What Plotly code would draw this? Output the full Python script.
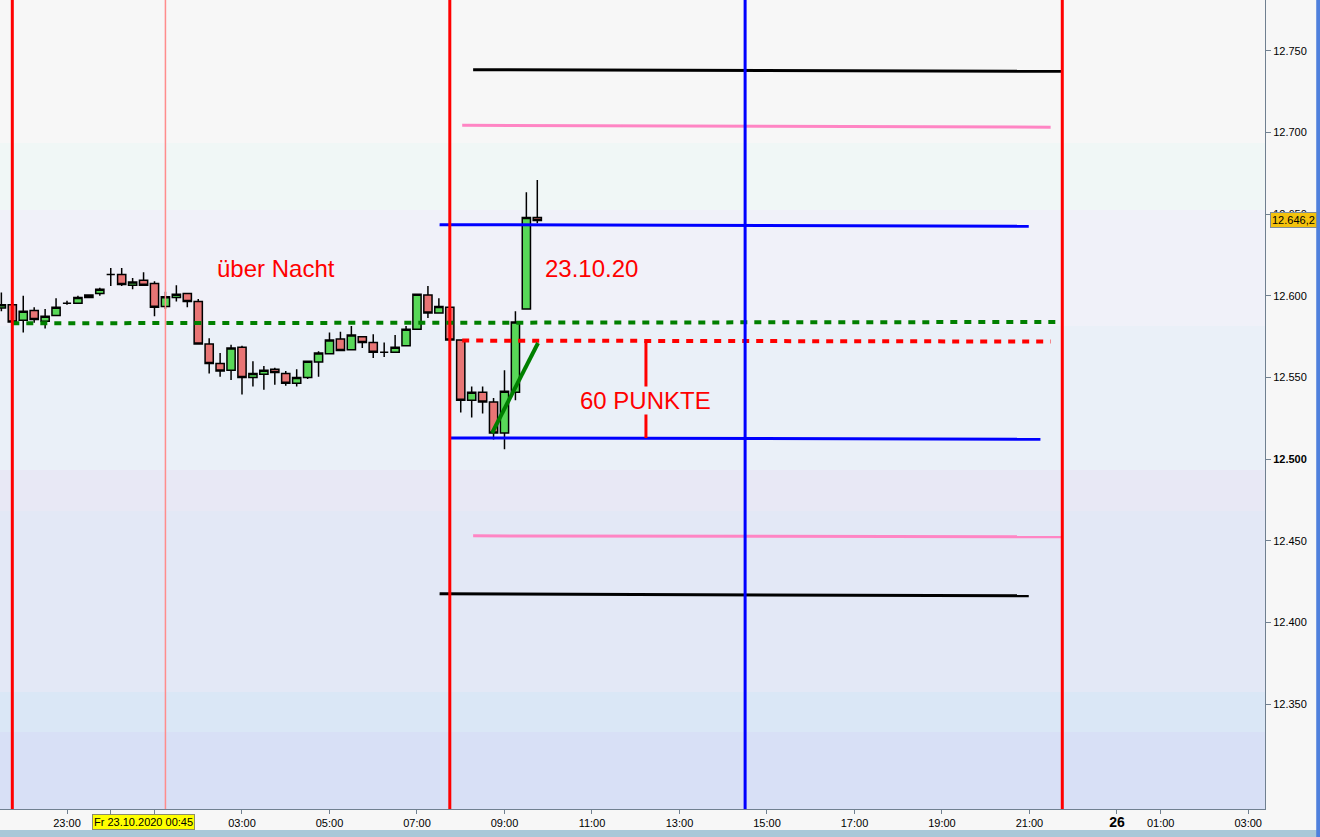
import pandas as pd
import plotly.graph_objects as go

# DAX 15-minute candles, Thu 22.10.2020 21:30 -> Fri 23.10.2020 09:45
START = "2020-10-22 21:30"
OPEN = [12592.5, 12594.5, 12585.0, 12591.0, 12584.5, 12588.0, 12595.5, 12595.5, 12599.0, 12601.5,
        12613.0, 12613.0, 12606.5, 12609.5, 12607.5, 12593.5, 12599.0, 12601.5, 12596.5, 12570.5,
        12558.5, 12554.5, 12568.5, 12550.0, 12552.0, 12555.0, 12552.5, 12546.5, 12550.0, 12559.5,
        12564.5, 12573.5, 12567.0, 12575.0, 12571.5, 12565.5, 12565.5, 12569.5, 12579.5, 12600.5,
        12589.5, 12593.0, 12573.0, 12536.0, 12541.0, 12535.0, 12516.0, 12541.0, 12592.0, 12648.0]
HIGH = [12602.0, 12595.5, 12600.0, 12593.0, 12592.0, 12598.5, 12597.0, 12600.0, 12600.5, 12605.0,
        12617.0, 12617.0, 12611.0, 12614.5, 12609.0, 12602.5, 12606.5, 12601.5, 12598.0, 12574.0,
        12565.0, 12570.0, 12569.5, 12560.0, 12557.0, 12556.0, 12554.0, 12555.0, 12560.0, 12566.0,
        12577.5, 12578.0, 12581.5, 12575.0, 12576.5, 12571.5, 12576.0, 12581.5, 12601.0, 12606.0,
        12598.5, 12593.0, 12573.0, 12544.5, 12544.5, 12537.5, 12554.5, 12590.5, 12663.5, 12671.0]
LOW = [12590.5, 12583.0, 12577.5, 12583.5, 12580.0, 12587.5, 12594.5, 12595.0, 12598.5, 12600.0,
       12606.0, 12606.0, 12604.0, 12606.0, 12587.5, 12592.0, 12596.5, 12593.0, 12570.5, 12552.5,
       12550.5, 12548.5, 12539.5, 12544.5, 12542.5, 12545.5, 12545.0, 12544.5, 12549.0, 12550.5,
       12564.0, 12566.5, 12567.0, 12568.0, 12562.0, 12562.5, 12565.0, 12569.5, 12579.5, 12586.5,
       12589.5, 12572.5, 12528.5, 12525.5, 12528.0, 12512.0, 12506.0, 12536.0, 12592.0, 12644.5]
CLOSE = [12594.5, 12584.0, 12590.5, 12585.5, 12587.5, 12593.0, 12595.5, 12599.0, 12600.5, 12604.0,
         12613.0, 12607.0, 12608.5, 12606.5, 12593.0, 12599.5, 12601.0, 12596.5, 12570.5, 12558.5,
         12554.0, 12568.0, 12550.0, 12552.5, 12554.5, 12553.0, 12546.5, 12550.0, 12560.0, 12565.0,
         12573.0, 12566.5, 12576.0, 12571.5, 12565.5, 12565.5, 12568.5, 12579.5, 12601.0, 12589.5,
         12593.5, 12573.0, 12536.0, 12541.0, 12535.0, 12516.0, 12541.5, 12584.0, 12648.0, 12646.2]
LAST_PRICE = 12646.2

# drawn trend lines / levels
LINE_NAMES = ["black_top", "pink_top", "blue_top", "green_dotted", "red_dotted",
              "blue_bottom", "pink_bottom", "black_bottom", "green_trend", "range_60"]
LINE_START = ["2020-10-23 08:17", "2020-10-23 08:02", "2020-10-23 07:31", "2020-10-22 21:45",
              "2020-10-23 08:02", "2020-10-23 07:46", "2020-10-23 08:17", "2020-10-23 07:31",
              "2020-10-23 08:43", "2020-10-23 12:14"]
LINE_END = ["2020-10-23 21:45", "2020-10-23 21:29", "2020-10-23 20:59", "2020-10-23 21:38",
            "2020-10-23 21:29", "2020-10-23 21:15", "2020-10-23 21:45", "2020-10-23 20:59",
            "2020-10-23 09:46", "2020-10-23 12:14"]
LINE_START_PRICE = [12738.5, 12704.5, 12643.6, 12583.2, 12572.6, 12513.0, 12453.0, 12417.5, 12516.0, 12572.4]
LINE_END_PRICE = [12737.5, 12703.3, 12642.6, 12584.0, 12572.0, 12512.2, 12452.4, 12416.3, 12571.1, 12512.9]

VLINE_NAMES = ["prev_close", "night", "open", "us_open", "close"]
VLINE_TIMES = ["2020-10-22 21:45", "2020-10-23 01:15", "2020-10-23 07:45",
               "2020-10-23 14:30", "2020-10-23 21:45"]

# background price zones (top to bottom)
BAND_EDGES = [12781.2, 12693.6, 12652.6, 12581.5, 12493.3, 12468.2, 12357.4, 12332.8, 12285.7]
BAND_COLORS = ["#f7f7f7", "#f0f7f6", "#f0f1f9", "#eaf0f8", "#e8e8f5", "#e3e8f6", "#dae7f6", "#d8e0f6"]

X_TICKS = ["2020-10-22 23:00", "2020-10-23 00:00", "2020-10-23 01:00", "2020-10-23 03:00",
           "2020-10-23 05:00", "2020-10-23 07:00", "2020-10-23 09:00", "2020-10-23 11:00",
           "2020-10-23 13:00", "2020-10-23 15:00", "2020-10-23 17:00", "2020-10-23 19:00",
           "2020-10-23 21:00", "2020-10-26 00:00", "2020-10-26 01:00", "2020-10-26 03:00"]
# 00:00 and 01:00 on the 23rd sit under the crosshair tag
X_TICK_LABELS = ["23:00", "", "", "03:00", "05:00", "07:00", "09:00", "11:00",
                 "13:00", "15:00", "17:00", "19:00", "21:00",
                 "<b><span style='font-size:14px'>26</span></b>", "01:00", "03:00"]
Y_TICKS = [12350, 12400, 12450, 12500, 12550, 12600, 12650, 12700, 12750]
Y_TICK_LABELS = ["12.350", "12.400", "12.450", "<b>12.500</b>", "12.550", "12.600", "12.650", "12.700", "12.750"]

CROSSHAIR_TIME = "2020-10-23 00:45"
CROSSHAIR_LABEL = "Fr 23.10.2020 00:45"

LINE_STYLE = {
    "black_top": dict(color="#000000", width=3),
    "pink_top": dict(color="#ff85c4", width=3),
    "blue_top": dict(color="#0000ff", width=3),
    "green_dotted": dict(color="#008000", width=4, dash="7px,7px"),
    "red_dotted": dict(color="#ff0000", width=4, dash="7px,7px"),
    "blue_bottom": dict(color="#0000ff", width=3),
    "pink_bottom": dict(color="#ff85c4", width=3),
    "black_bottom": dict(color="#000000", width=3),
    "green_trend": dict(color="#008000", width=4),
    "range_60": dict(color="#ff0000", width=3),
}
VLINE_STYLE = {
    "prev_close": dict(color="#ff0000", width=3),
    "night": dict(color="#ff8c8c", width=1.5),
    "open": dict(color="#ff0000", width=3),
    "us_open": dict(color="#0000ff", width=3),
    "close": dict(color="#ff0000", width=3),
}

FONT = "Arial, Liberation Sans, sans-serif"
AXIS_COLOR = "#708090"

times = pd.date_range(START, periods=len(OPEN), freq="15min")

fig = go.Figure()

for i, col in enumerate(BAND_COLORS):
    fig.add_shape(type="rect", xref="paper", yref="y", x0=0, x1=1,
                  y0=BAND_EDGES[i + 1], y1=BAND_EDGES[i], fillcolor=col,
                  line_width=0, layer="below")

fig.add_trace(go.Candlestick(
    x=times, open=OPEN, high=HIGH, low=LOW, close=CLOSE,
    increasing=dict(fillcolor="#58d858", line=dict(color="#000000", width=1.5)),
    decreasing=dict(fillcolor="#e87575", line=dict(color="#000000", width=1.5)),
    whiskerwidth=0, showlegend=False, hoverinfo="skip",
))

for name, t0, t1, p0, p1 in zip(LINE_NAMES, LINE_START, LINE_END, LINE_START_PRICE, LINE_END_PRICE):
    fig.add_trace(go.Scatter(x=[t0, t1], y=[p0, p1], mode="lines", line=LINE_STYLE[name],
                             showlegend=False, hoverinfo="skip"))

for name, t in zip(VLINE_NAMES, VLINE_TIMES):
    fig.add_shape(type="line", xref="x", yref="paper", x0=t, x1=t, y0=0, y1=1,
                  line=VLINE_STYLE[name])

red_text = dict(family=FONT, size=24, color="#ff0000")
fig.add_annotation(x="2020-10-23 03:47", y=12617, text="über Nacht", showarrow=False, font=red_text)
fig.add_annotation(x="2020-10-23 10:59", y=12616.5, text="23.10.20", showarrow=False, font=red_text)
fig.add_annotation(x="2020-10-23 12:14", y=12535.6, text="60 PUNKTE", showarrow=False,
                   font=red_text, bgcolor="#eaf0f8", borderpad=0)

# last price tag on the price axis
fig.add_annotation(xref="paper", x=1, xanchor="left", xshift=5, y=LAST_PRICE,
                   text="12.646,2", showarrow=False, bgcolor="#f4c20d",
                   bordercolor="#7f8c99", borderwidth=1, borderpad=1,
                   font=dict(family=FONT, size=11, color="#000000"))
# crosshair time tag
fig.add_annotation(x=CROSSHAIR_TIME, yref="paper", y=0, yanchor="top", yshift=-5,
                   text=CROSSHAIR_LABEL, showarrow=False, bgcolor="#ffff00",
                   bordercolor="#8c8c6c", borderwidth=1, borderpad=1,
                   font=dict(family=FONT, size=11, color="#000000"))

# window chrome strips (bottom scroll bar, right border)
fig.add_shape(type="rect", xref="paper", yref="paper", x0=-0.01, x1=1.06, y0=-0.026, y1=-0.05,
              fillcolor="#a8c8d8", line=dict(width=0), layer="above")
fig.add_shape(type="rect", xref="paper", yref="paper", x0=1.0405, x1=1.06, y0=-0.05, y1=1.02,
              fillcolor="#4f80dc", line=dict(width=0), layer="above")

fig.update_layout(
    width=1320, height=837,
    margin=dict(l=0, r=55, t=0, b=28),
    paper_bgcolor="#f7f7f7", plot_bgcolor="#f7f7f7",
    separators=",.",
    showlegend=False,
    boxgap=0.25, boxgroupgap=0,
    font=dict(family=FONT, size=11, color="#000000"),
    xaxis=dict(
        type="date",
        range=["2020-10-22 21:28:07", "2020-10-26 03:23:00"],
        rangebreaks=[dict(bounds=["2020-10-23 23:00", "2020-10-26 00:00"])],
        rangeslider=dict(visible=False),
        tickmode="array", tickvals=X_TICKS, ticktext=X_TICK_LABELS,
        showgrid=False, zeroline=False, showline=True, linecolor=AXIS_COLOR, linewidth=1,
        ticks="outside", ticklen=4, tickcolor=AXIS_COLOR,
        tickfont=dict(family=FONT, size=11, color="#000000"),
    ),
    yaxis=dict(
        side="right",
        range=[12285.7, 12781.2],
        tickmode="array", tickvals=Y_TICKS, ticktext=Y_TICK_LABELS,
        showgrid=False, zeroline=False, showline=True, linecolor=AXIS_COLOR, linewidth=1,
        ticks="outside", ticklen=5, tickcolor=AXIS_COLOR,
        tickfont=dict(family=FONT, size=11, color="#000000"),
    ),
)

fig.write_html(
    "out.html",
    config={"displayModeBar": False},
    post_script="document.body.style.margin='0px';document.body.style.overflow='hidden';",
)
